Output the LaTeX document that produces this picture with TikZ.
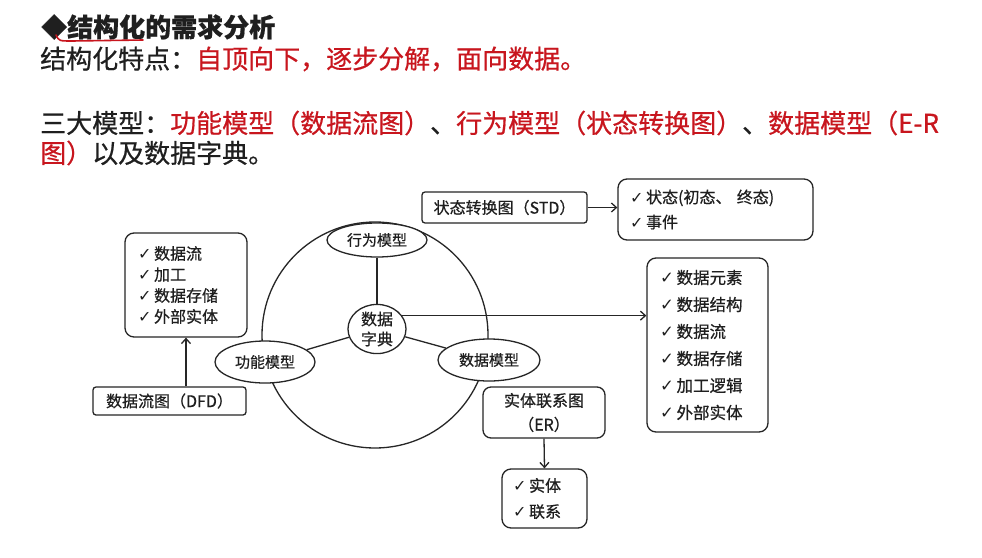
\documentclass[tikz,border=0pt]{standalone}
\usepackage{fontspec}
\setmainfont{Noto Sans CJK SC}[FakeBold=0.6]
\newfontfamily\symfont{DejaVu Sans}
\usepackage{xcolor}
\definecolor{SlideInk}{HTML}{1F1F1F}
\definecolor{SlideRed}{HTML}{C8161E}
\definecolor{LineInk}{HTML}{262626}
\usetikzlibrary{shapes.geometric,arrows.meta,positioning,calc}
\newcommand{\tick}{{\symfont\bfseries ✓}\,}

\begin{document}
\begin{tikzpicture}[x=1pt, y=-1pt,
  headline/.style={anchor=west, inner sep=0pt, text=SlideInk,
                   font=\fontsize{26}{30}\selectfont},
  labelbox/.style={draw=LineInk, line width=1.3pt, rounded corners=3pt,
                   inner sep=0pt, align=center, text=SlideInk,
                   font=\fontsize{16}{22}\selectfont},
  listbox/.style={draw=LineInk, line width=1.3pt, rounded corners=9pt,
                  inner xsep=13pt, inner ysep=0pt, align=left, text=SlideInk},
  model/.style={ellipse, draw=LineInk, line width=1.3pt, fill=white,
                inner sep=0pt, minimum width=100pt, minimum height=42pt,
                text=SlideInk, font=\fontsize{15}{18}\selectfont},
  link/.style={draw=LineInk, line width=1.3pt},
  arrow/.style={-{Straight Barb[length=5pt,width=9pt]}, draw=LineInk, line width=1.3pt},
]
\useasboundingbox[fill=white] (0,0) rectangle (982,557);

\node[headline, font=\fontsize{26}{30}\selectfont\bfseries] (title) at (41,27)
  {◆结构化的需求分析};
\draw[SlideRed, line width=1.6pt, line cap=round]
  (56,35) .. controls (59,41) .. (72,41) -- (143,40);
\node[headline] (trait) at (40,59)
  {结构化特点：\textcolor{SlideRed}{自顶向下，逐步分解，面向数据。}};
\node[headline] (models) at (40,123)
  {三大模型：\textcolor{SlideRed}{功能模型（数据流图）}、\textcolor{SlideRed}{行为模型（状态转换图）}、\textcolor{SlideRed}{数据模型（E-R}};
\node[headline] (modelsb) at (40,153)
  {\textcolor{SlideRed}{图）}以及数据字典。};

\node[circle, draw=LineInk, line width=1.3pt, minimum size=226pt, inner sep=0pt] (ring) at (375,335) {};
\node[model, minimum height=34pt] (behave) at (377,240) {行为模型};
\node[model] (func) at (265,362) {功能模型};
\node[model, minimum width=102pt] (datam) at (489,360) {数据模型};
\node[model, minimum width=58pt, minimum height=48pt, align=center,
      font=\fontsize{16}{20}\selectfont] (dict) at (377,329) {数据\\字典};
\draw[link] (behave) -- (dict);
\draw[link] (dict) -- (func);
\draw[link] (dict) -- (datam);

\node[listbox, text width=96pt, minimum height=104pt,
      font=\fontsize{16}{21}\selectfont] (dfdlist) at (186,285)
  {\tick 数据流\\\tick 加工\\\tick 数据存储\\\tick 外部实体};
\node[labelbox, minimum width=153pt, minimum height=28pt] (dfd) at (169.5,401)
  {数据流图（DFD）};
\draw[arrow] (dfdlist.south |- dfd.north) -- (dfdlist.south);

\node[labelbox, minimum width=165pt, minimum height=31pt] (std) at (504.5,207.5)
  {状态转换图（STD）};
\node[listbox, text width=171pt, inner xsep=12pt, minimum height=61pt,
      font=\fontsize{16}{25}\selectfont] (stdlist) at (715.5,209.5)
  {\tick 状态(初态、 终态)\\\tick 事件};
\draw[arrow] (std.east) -- (std.east -| stdlist.west);

\node[listbox, text width=95pt, minimum height=174pt,
      font=\fontsize{16.5}{27}\selectfont] (dictlist) at (707.5,345)
  {\tick 数据元素\\\tick 数据结构\\\tick 数据流\\\tick 数据存储\\\tick 加工逻辑\\\tick 外部实体};
\draw[arrow] (dict.28) -- (dict.28 -| dictlist.west);

\node[labelbox, rounded corners=8pt, minimum width=122pt, minimum height=51pt,
      font=\fontsize{16}{24}\selectfont] (er) at (544,412.5)
  {实体联系图\\（ER）};
\node[listbox, text width=63pt, inner xsep=11pt, minimum height=59pt,
      font=\fontsize{16}{26}\selectfont] (erlist) at (544.5,498.5)
  {\tick 实体\\\tick 联系};
\draw[arrow] (er.south) -- (erlist.north);
\end{tikzpicture}
\end{document}
